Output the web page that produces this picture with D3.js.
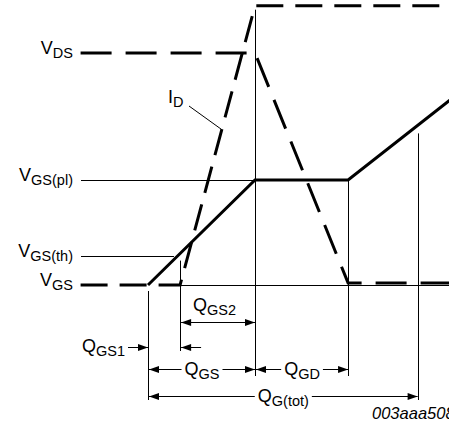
<!DOCTYPE html>
<html>
<head>
<meta charset="utf-8">
<script src="https://cdn.jsdelivr.net/npm/d3@7"></script>
<style>
	body { margin: 0; background: #fff; }
	text { font-family: Arial, "Liberation Sans", sans-serif; fill: #000; }
</style>
</head>
<body>
<svg id="chart" width="449" height="426"></svg>
<script>
// gate charge waveforms (charge in arbitrary units, levels normalised)
const qPoints = [0, 3, 10, 18.7, 25.2]; // start, threshold, end of QGS, end of plateau, QG(tot)
const vgsQ = [0, 10, 18.7, 28.2];
const vgsV = [0, 10, 10, 17.6];
const idQ = [-6.3, 3, 10, 28.2];
const idV = [0, 0, 26.6, 26.6];
const vdsQ = [-6.3, 10, 18.7, 28.2];
const vdsV = [22.1, 22.1, 0.2, 0.2];
const levelNames = [["V", "DS"], ["V", "GS(pl)"], ["V", "GS(th)"], ["V", "GS"]];
const levelValues = [22.1, 10, 2.8, 0];
const spanNames = [["Q", "GS2"], ["Q", "GS1"], ["Q", "GS"], ["Q", "GD"], ["Q", "G(tot)"]];
const figId = "003aaa508";

const svg = d3.select("#chart");
const x = d3.scaleLinear().domain([0, 10]).range([148, 255]);
const y = d3.scaleLinear().domain([0, 10]).range([285, 180]);
const px = v => Math.round(v) + 0.5;
const left = 81;

const line = d3.line().x(d => x(d[0])).y(d => y(d[1]));
const zip = (a, b) => a.map((d, i) => [d, b[i]]);

// thin guide lines
const thin = svg.append("g").attr("stroke", "#000").attr("stroke-width", 1).attr("fill", "none");

thin.append("line").attr("x1", x(qPoints[1])).attr("x2", 449)
	.attr("y1", px(y(0))).attr("y2", px(y(0)));
thin.append("line").attr("x1", left).attr("x2", x(qPoints[2]))
	.attr("y1", px(y(levelValues[1]))).attr("y2", px(y(levelValues[1])));
thin.append("line").attr("x1", left).attr("x2", x(levelValues[2]) - 4)
	.attr("y1", px(y(levelValues[2]))).attr("y2", px(y(levelValues[2])));

// verticals
const vgsAt = q => q <= 10 ? q : 10 + (q - 18.7) * (17.6 - 10) / (28.2 - 18.7);
const verts = [
	[qPoints[0], y(0) + 6, 400],
	[qPoints[1], y(levelValues[2]) + 5, 351],
	[qPoints[2], y(idV[2]) + 4, 376],
	[qPoints[3], y(10), 376],
	[qPoints[4], y(vgsAt(qPoints[4])) + 8, 400]
];
verts.forEach(v => {
	thin.append("line").attr("x1", px(x(v[0]))).attr("x2", px(x(v[0])))
		.attr("y1", v[1]).attr("y2", v[2]);
});

// waveforms
svg.append("path").datum(zip(vdsQ, vdsV)).attr("d", line)
	.attr("fill", "none").attr("stroke", "#000").attr("stroke-width", 3)
	.attr("stroke-dasharray", "31,14");
svg.append("path").datum(zip(idQ, idV)).attr("d", line)
	.attr("fill", "none").attr("stroke", "#000").attr("stroke-width", 3)
	.attr("stroke-dasharray", "27,12");
svg.append("path").datum(zip(vgsQ, vgsV)).attr("d", line)
	.attr("fill", "none").attr("stroke", "#000").attr("stroke-width", 3)
	.attr("stroke-linejoin", "miter");

// labels with subscript
function label(g, parts, xp, yp, anchor) {
	const t = g.append("text").attr("x", xp).attr("y", yp).attr("text-anchor", anchor || "start");
	t.append("tspan").attr("font-size", 18).text(parts[0]);
	t.append("tspan").attr("font-size", 14.5).attr("dy", 4).text(parts[1]);
	return t;
}

levelNames.forEach((n, i) => {
	label(svg, n, 73, y(levelValues[i]) + 1, "end");
});

label(svg, ["I", "D"], 168, 103);
thin.append("line").attr("x1", 189).attr("y1", 106)
	.attr("x2", x(3 + 14.8 / idV[2] * 7)).attr("y2", y(14.8));

// arrows
function head(xt, yt, dir) {
	svg.append("path")
		.attr("d", `M${xt},${yt}L${xt - dir * 10},${yt - 3.5}L${xt - dir * 10},${yt + 3.5}Z`)
		.attr("fill", "#000");
}
function hline(x1, x2, yy) {
	thin.append("line").attr("x1", x1).attr("x2", x2).attr("y1", px(yy)).attr("y2", px(yy));
}
function span(q1, q2, yy, name) {
	const a = x(q1) + 1, b = x(q2);
	const t = label(svg, name, (a + b) / 2, yy + 6, "middle");
	const w = t.node().getComputedTextLength();
	hline(a, (a + b) / 2 - w / 2 - 3, yy);
	hline((a + b) / 2 + w / 2 + 3, b, yy);
	head(a, px(yy), -1);
	head(b, px(yy), 1);
}

// QGS2
hline(x(qPoints[1]) + 1, x(qPoints[2]), 322);
head(x(qPoints[1]) + 1, px(322), -1);
head(x(qPoints[2]), px(322), 1);
label(svg, spanNames[0], 193, 311);

// QGS1
hline(x(qPoints[0]) - 20, x(qPoints[0]), 347);
head(x(qPoints[0]), px(347), 1);
hline(x(qPoints[1]) + 1, x(qPoints[1]) + 21, 347);
head(x(qPoints[1]) + 1, px(347), -1);
label(svg, spanNames[1], 125, 352, "end");

span(qPoints[0], qPoints[2], 369, spanNames[2]);
span(qPoints[2], qPoints[3], 369, spanNames[3]);
span(qPoints[0], qPoints[4], 396, spanNames[4]);

svg.append("text").attr("x", 372).attr("y", 419)
	.attr("font-size", 16.5).attr("font-style", "italic").attr("fill", "#222")
	.text(figId);
</script>
</body>
</html>
